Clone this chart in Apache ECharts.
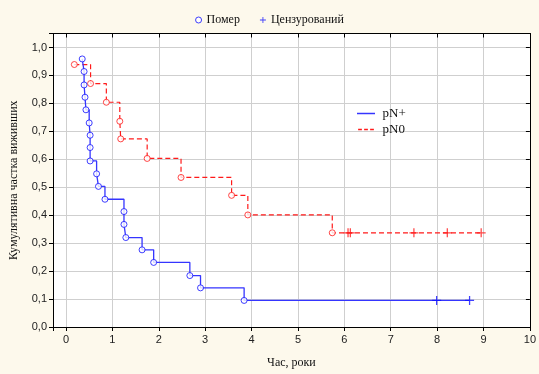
<!DOCTYPE html>
<html>
<head>
<meta charset="utf-8">
<script src="https://cdn.jsdelivr.net/npm/echarts@6/dist/echarts.min.js"></script>
<style>
    html, body { margin: 0; padding: 0; background: #fdf9ec; }
    #chart { width: 539px; height: 374px; }
</style>
</head>
<body>
<div id="chart"></div>
<script>
// pN+ (синя лінія)
var blueEventT = [0.35, 0.39, 0.39, 0.41, 0.43, 0.50, 0.52, 0.52, 0.52, 0.66, 0.70, 0.84, 1.25, 1.25, 1.29, 1.64, 1.89, 2.67, 2.90, 3.84];
var blueEventS = [0.959, 0.914, 0.866, 0.822, 0.777, 0.730, 0.686, 0.642, 0.594, 0.548, 0.503, 0.457, 0.413, 0.367, 0.320, 0.276, 0.231, 0.184, 0.140, 0.095];
var blueCensT = [7.99, 8.70];
var blueCensS = [0.095, 0.095];

// pN0 (червона лінія)
var redEventT = [0.18, 0.53, 0.87, 1.16, 1.18, 1.75, 2.48, 3.57, 3.92, 5.74];
var redEventS = [0.939, 0.871, 0.804, 0.736, 0.673, 0.603, 0.535, 0.471, 0.401, 0.337];
var redCensT = [6.08, 6.13, 7.50, 8.22, 8.95];
var redCensS = [0.337, 0.337, 0.337, 0.337, 0.337];

var xTicks = [0, 1, 2, 3, 4, 5, 6, 7, 8, 9, 10];
var yTicks = ['0,0', '0,1', '0,2', '0,3', '0,4', '0,5', '0,6', '0,7', '0,8', '0,9', '1,0'];

var BLUE = '#3535ff';
var RED = '#ff1a1a';
var CROSS = 'path://M4.3,0H5.7V4.3H10V5.7H5.7V10H4.3V5.7H0V4.3H4.3Z';
// значки легенди для ліній
var SOLID = 'path://M0,0H24V2H0Z';
var DASHED = 'path://M0,0H5V2H0Z M8,0H13V2H8Z M16,0H21V2H16Z';

function pairs(t, s) {
    var out = [];
    for (var i = 0; i < t.length; i++) out.push([t[i], s[i]]);
    return out;
}

function stepData(et, es, ct, cs) {
    var all = pairs(et, es).concat(pairs(ct, cs));
    all.sort(function (a, b) { return a[0] - b[0]; });
    return all;
}

function xLabel(v) {
    var r = Math.round(v);
    return (Math.abs(v - r) < 1e-6 && xTicks.indexOf(r) >= 0) ? String(r) : '';
}

function yLabel(v) {
    var i = Math.round(v * 10);
    return Math.abs(v * 10 - i) < 1e-6 ? (yTicks[i] || '') : '';
}

var chart = echarts.init(document.getElementById('chart'), null, {renderer: 'canvas'});

var axisText = {fontFamily: 'Liberation Sans', fontSize: 11, color: '#222'};

var option = {
    backgroundColor: '#fdf9ec',
    animation: false,
    grid: {
        left: 53, top: 33.5, right: 1.3, bottom: 42.5,
        show: true, backgroundColor: '#ffffff', borderWidth: 0
    },
    legend: [
        {
            data: [
                {name: 'Помер', icon: 'circle', itemStyle: {color: '#ffffff', borderColor: '#1010ff', borderWidth: 1}},
                {name: 'Цензурований'}
            ],
            top: 9, left: 'center',
            itemWidth: 6, itemHeight: 6, itemGap: 20,
            textStyle: {fontFamily: 'Liberation Serif', fontSize: 12, color: '#111'},
            selectedMode: false
        },
        {
            data: [{name: 'pN+', icon: SOLID}, {name: 'pN0', icon: DASHED}],
            orient: 'vertical',
            left: 352, top: 102,
            itemWidth: 21, itemHeight: 1.5, itemGap: 3,
            textStyle: {fontFamily: 'Liberation Serif', fontSize: 13, color: '#111', padding: [0, 0, 0, 1]},
            selectedMode: false
        }
    ],
    xAxis: [
        {
            type: 'value', min: -0.28, max: 10, minInterval: 1, maxInterval: 1,
            name: 'Час, роки', nameLocation: 'middle', nameGap: 30,
            nameTextStyle: {fontFamily: 'Liberation Serif', fontSize: 12, color: '#111'},
            axisLine: {show: true, onZero: false, lineStyle: {color: '#000', width: 1}},
            axisTick: {show: true, length: 4, lineStyle: {color: '#000'}},
            axisLabel: Object.assign({formatter: xLabel, margin: 7}, axisText),
            splitLine: {show: true, lineStyle: {color: '#cfcfcf', width: 1}}
        },
        {
            type: 'value', position: 'top', min: -0.28, max: 10, minInterval: 1, maxInterval: 1,
            axisLine: {show: true, onZero: false, lineStyle: {color: '#000', width: 1}},
            axisTick: {show: true, inside: true, length: 4, lineStyle: {color: '#000'}},
            axisLabel: {show: false},
            splitLine: {show: false}
        }
    ],
    yAxis: [
        {
            type: 'value', min: 0, max: 1.05, minInterval: 0.1, maxInterval: 0.1,
            name: 'Кумулятивна частка виживших', nameLocation: 'middle', nameGap: 33,
            nameTextStyle: {fontFamily: 'Liberation Serif', fontSize: 12, color: '#111'},
            axisLine: {show: true, onZero: false, lineStyle: {color: '#000', width: 1}},
            axisTick: {show: true, length: 4, lineStyle: {color: '#000'}},
            axisLabel: Object.assign({formatter: yLabel, margin: 6}, axisText),
            splitLine: {show: true, lineStyle: {color: '#cfcfcf', width: 1}}
        },
        {
            type: 'value', position: 'right', min: 0, max: 1.05, minInterval: 0.1, maxInterval: 0.1,
            axisLine: {show: true, onZero: false, lineStyle: {color: '#000', width: 1}},
            axisTick: {show: true, inside: true, length: 4, lineStyle: {color: '#000'}},
            axisLabel: {show: false},
            splitLine: {show: false}
        }
    ],
    series: [
        {
            name: 'pN+', type: 'line', step: 'end', symbol: 'none',
            data: stepData(blueEventT, blueEventS, blueCensT, blueCensS),
            lineStyle: {color: BLUE, width: 1.3}, itemStyle: {color: BLUE}, z: 3
        },
        {
            name: 'pN0', type: 'line', step: 'end', symbol: 'none',
            data: stepData(redEventT, redEventS, redCensT, redCensS),
            lineStyle: {color: RED, width: 1.2, type: [5, 3]}, itemStyle: {color: RED}, z: 2
        },
        {
            name: 'Помер', type: 'scatter', symbol: 'circle', symbolSize: 6,
            data: pairs(blueEventT, blueEventS),
            itemStyle: {color: '#ffffff', borderColor: '#1010ff', borderWidth: 1}, z: 5
        },
        {
            name: 'Помер', type: 'scatter', symbol: 'circle', symbolSize: 6,
            data: pairs(redEventT, redEventS),
            itemStyle: {color: '#ffffff', borderColor: RED, borderWidth: 1}, z: 4
        },
        {
            name: 'Цензурований', type: 'scatter', symbol: CROSS, symbolSize: 9,
            data: pairs(blueCensT, blueCensS),
            itemStyle: {color: '#1010ff'}, z: 5
        },
        {
            name: 'Цензурований', type: 'scatter', symbol: CROSS, symbolSize: 9,
            data: pairs(redCensT, redCensS),
            itemStyle: {color: RED}, z: 4
        }
    ]
};

chart.setOption(option);
window.addEventListener('resize', function () {
    chart.resize();
});
</script>
</body>
</html>
